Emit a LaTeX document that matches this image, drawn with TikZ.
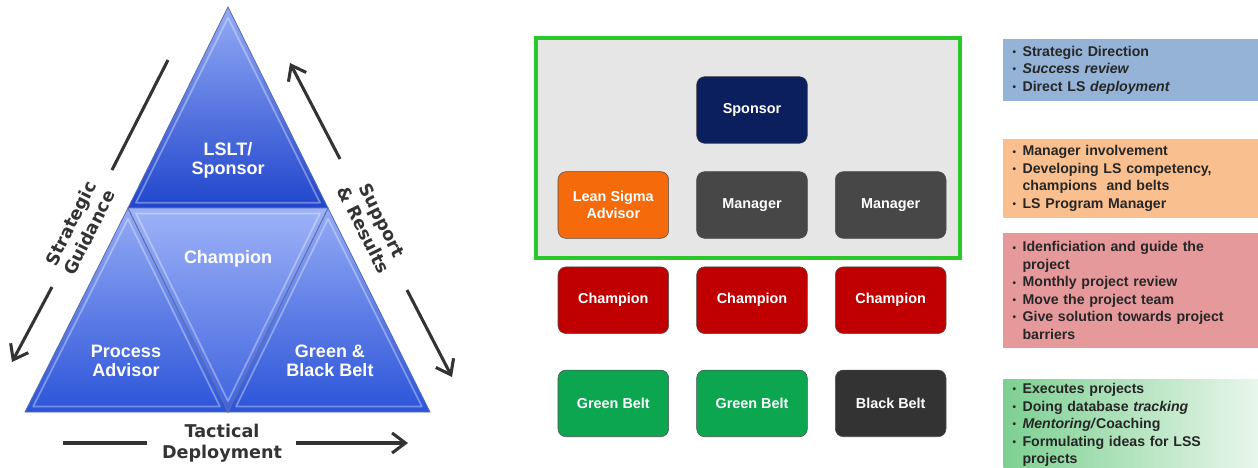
\documentclass[tikz,border=0pt]{standalone}
\usepackage{fontspec}
\setmainfont{Liberation Sans}
\newfontfamily\verdfont{DejaVu Sans}
\usetikzlibrary{positioning,calc,arrows.meta}

\definecolor{pyrlight}{HTML}{94ABF5}
\definecolor{pyrdark}{HTML}{2045CC}
\definecolor{pyrbase}{HTML}{2C54D8}
\definecolor{pyrmidtop}{HTML}{9DB2F7}
\definecolor{pyrmidtip}{HTML}{3F63DE}
\definecolor{pyredge}{HTML}{5A6BA8}
\definecolor{ink}{HTML}{333333}
\definecolor{framegreen}{HTML}{2BC82B}
\definecolor{framegray}{HTML}{E6E6E6}
\definecolor{sponsorblue}{HTML}{0B1F5E}
\definecolor{advisororange}{HTML}{F56B0C}
\definecolor{managergray}{HTML}{474747}
\definecolor{championred}{HTML}{C00000}
\definecolor{beltgreen}{HTML}{0BA64F}
\definecolor{beltblack}{HTML}{333333}
\definecolor{dirblue}{HTML}{95B3D7}
\definecolor{mgrpeach}{HTML}{FABF8F}
\definecolor{teamrose}{HTML}{E6999B}
\definecolor{execgreen}{HTML}{7DD091}
\definecolor{execpale}{HTML}{E8F6EB}

% bullet and hanging indent for the info boxes
\newcommand{\bul}{\makebox[7.5pt][l]{\raisebox{0.6pt}{\fontsize{7.5}{7.5}\selectfont\textbullet}}}
\newcommand{\cont}{\hspace*{7.5pt}}

% one face of the pyramid: corners, top colour, bottom colour
\newcommand{\pyrface}[5]{%
  \shadedraw[top color=#4,bottom color=#5,draw=pyredge,line width=0.6pt] (#1)--(#2)--(#3)--cycle;
  \coordinate (cen) at ($(#3)!2/3!($(#1)!0.5!(#2)$)$);
  \draw[white,opacity=0.35,line width=1.3pt,line join=round]
    ($(#1)!0.08!(cen)$)--($(#2)!0.08!(cen)$)--($(#3)!0.08!(cen)$)--cycle;
}

\begin{document}
\begin{tikzpicture}[x=0.75pt,y=-0.75pt,
  trilabel/.style={text=white,align=center,font=\bfseries\fontsize{13.5}{14.3}\selectfont},
  sidelabel/.style={text=ink,align=center,font=\verdfont\bfseries\fontsize{13.2}{15.5}\selectfont},
  plain/.style={draw=ink,line width=2.3pt},
  flow/.style={plain,-{Straight Barb[length=10pt,width=15pt]}},
  rolebox/.style={draw=black!70,rounded corners=6pt,minimum width=83pt,minimum height=50pt,
    inner sep=0pt,text=white,align=center,font=\bfseries\fontsize{10.8}{12.75}\selectfont},
  infobox/.style={anchor=west,text width=177pt,inner xsep=7pt,align=left,text=black!85,
    font=\bfseries\fontsize{10.6}{13.1}\selectfont}]
  \useasboundingbox (0,0) rectangle (1258,468);

  % pyramid
  \coordinate (apex) at (228,7);
  \coordinate (ml) at (128,208);
  \coordinate (mr) at (328,208);
  \coordinate (bl) at (25,412);
  \coordinate (bm) at (228,412);
  \coordinate (br) at (430,412);
  \pyrface{apex}{mr}{ml}{pyrlight}{pyrdark}
  \pyrface{ml}{bm}{bl}{pyrlight}{pyrbase}
  \pyrface{mr}{br}{bm}{pyrlight}{pyrbase}
  \pyrface{ml}{mr}{bm}{pyrmidtop}{pyrmidtip}

  \node[trilabel] (lslt) at (228,160) {LSLT/\\Sponsor};
  \node[trilabel] (champ) at (228,259) {Champion};
  \node[trilabel] (advisorlbl) at (126,361) {Process\\Advisor};
  \node[trilabel] (beltlbl) at (330,361) {Green \&\\Black Belt};

  % arrows round the pyramid
  \node[sidelabel,rotate=63.4] (strategic) at (80,228) {Strategic\\Guidance};
  \node[sidelabel,rotate=-63.4] (support) at (373,225) {Support\\\& Results};
  \node[sidelabel] (tactical) at (222,443) {Tactical\\Deployment};
  \coordinate (sgA) at (168,60);
  \coordinate (sgB) at (112,170);
  \coordinate (sgC) at (52,287);
  \coordinate (sgD) at (12,362);
  \coordinate (srA) at (340,159);
  \coordinate (srB) at (290,63);
  \coordinate (srC) at (407,290);
  \coordinate (srD) at (452,377);
  \coordinate (tdA) at (63,443);
  \coordinate (tdB) at (147,443);
  \coordinate (tdC) at (296,443);
  \coordinate (tdD) at (408,443);
  \draw[plain] (sgA) -- (sgB);
  \draw[flow] (sgC) -- (sgD);
  \draw[flow] (srA) -- (srB);
  \draw[flow] (srC) -- (srD);
  \draw[plain] (tdA) -- (tdB);
  \draw[flow] (tdC) -- (tdD);

  % organisation chart
  \draw[draw=framegreen,line width=3pt,fill=framegray] (536,38) rectangle (960,258);
  \node[rolebox,fill=sponsorblue] (sponsor) at (752,110) {Sponsor};
  \node[rolebox,fill=managergray] (managerA) at (752,205) {Manager};
  \node[rolebox,fill=advisororange,left=20.6pt of managerA] (advisor) {Lean Sigma\\Advisor};
  \node[rolebox,fill=managergray,right=20.6pt of managerA] (managerB) {Manager};
  \node[rolebox,fill=championred,below=21pt of advisor] (championA) {Champion};
  \node[rolebox,fill=championred,below=21pt of managerA] (championB) {Champion};
  \node[rolebox,fill=championred,below=21pt of managerB] (championC) {Champion};
  \node[rolebox,fill=beltgreen,below=27pt of championA] (greenA) {Green Belt};
  \node[rolebox,fill=beltgreen,below=27pt of championB] (greenB) {Green Belt};
  \node[rolebox,fill=beltblack,below=27pt of championC] (black) {Black Belt};

  % roles
  \node[infobox,fill=dirblue,minimum height=46.5pt] (direction) at (1003,70) {%
    \bul Strategic Direction\\
    \bul \textit{Success review}\\
    \bul Direct LS \textit{deployment}};
  \node[infobox,fill=mgrpeach,minimum height=59.25pt] (involve) at (1003,178.5) {%
    \bul Manager involvement\\
    \bul Developing LS competency,\\
    \cont champions\ \ and belts\\
    \bul LS Program Manager};
  \node[infobox,fill=teamrose,minimum height=86.25pt] (guide) at (1003,290.5) {%
    \bul Idenficiation and guide the\\
    \cont project\\
    \bul Monthly project review\\
    \bul Move the project team\\
    \bul Give solution towards project\\
    \cont barriers};
  \node[infobox,left color=execgreen,right color=execpale,minimum height=64.5pt] (execute) at (1003,425) {%
    \bul Executes projects\\
    \bul Doing database \textit{tracking}\\
    \bul \textit{Mentoring/}Coaching\\
    \bul Formulating ideas for LSS\\
    \cont projects};
\end{tikzpicture}
\end{document}
